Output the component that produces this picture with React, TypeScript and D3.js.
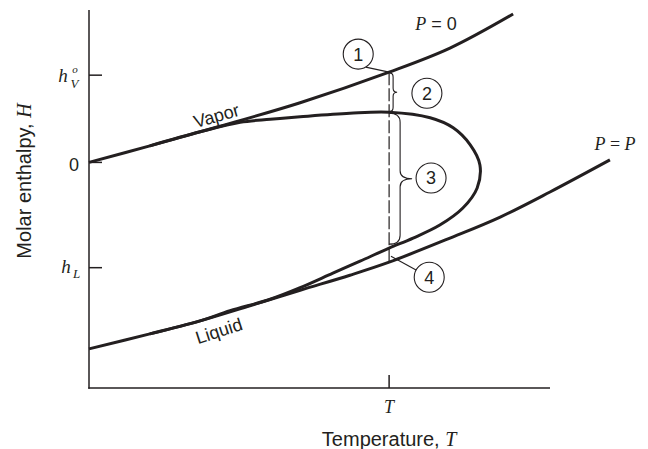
import React from "react";
import * as d3 from "d3";

// Ideal-gas (P = 0) enthalpy curve
const vaporT = [0, 1.32, 2.8, 4.58, 6.51, 7.83, 9.2];
const vaporH = [0, 0.33, 0.71, 1.19, 1.8, 2.28, 2.96];

// P = P liquid line
const liquidT = [0, 1.32, 2.41, 3.49, 4.58, 5.66, 6.51, 7.83, 8.92, 10, 11.3];
const liquidH = [-3.72, -3.42, -3.16, -2.86, -2.55, -2.25, -1.99, -1.51, -1.09, -0.59, 0.05];

// vapor / liquid loop at P
const loopT = [1.32, 2.41, 3.28, 3.93, 4.58, 5.66, 6.51, 7.4, 7.9, 8.27, 8.48, 8.42, 8.11, 7.61, 7.03, 6.51, 5.88, 5.29, 4.58, 3.93, 3.06, 2.41, 1.32];
const loopH = [0.33, 0.61, 0.8, 0.86, 0.91, 0.98, 1.0, 0.89, 0.69, 0.35, -0.05, -0.51, -0.91, -1.25, -1.51, -1.71, -1.97, -2.21, -2.5, -2.73, -2.96, -3.16, -3.42];

const tempTick = 6.51;
const yTickValues = [1.74, 0, -2.1];
const circleIds = ["1", "2", "3", "4"];
const circleT = [5.84, 7.33, 7.42, 7.38];
const circleH = [2.16, 1.38, -0.31, -2.29];

const INK = "#231f20";
const SANS = "'Liberation Sans', Arial, sans-serif";
const SERIF = "'Liberation Serif', 'Times New Roman', serif";

function bracePath(x0: number, x1: number, x2: number, yTop: number, yBot: number, r: number, rm: number) {
  const ym = (yTop + yBot) / 2;
  return [
    `M${x0},${yTop}`,
    `Q${x1},${yTop} ${x1},${yTop + r}`,
    `L${x1},${ym - rm}`,
    `Q${x1},${ym} ${x2},${ym}`,
    `Q${x1},${ym} ${x1},${ym + rm}`,
    `L${x1},${yBot - r}`,
    `Q${x1},${yBot} ${x0},${yBot}`,
  ].join(" ");
}

export default function App() {
  const width = 648;
  const height = 449;

  const xScale = d3.scaleLinear().domain([0, 10]).range([89, 550]);
  const yScale = d3.scaleLinear().domain([-4.5, 3]).range([388, 12]);

  const line = d3
    .line<[number, number]>()
    .x((d) => xScale(d[0]))
    .y((d) => yScale(d[1]))
    .curve(d3.curveCatmullRom.alpha(0.5));

  const vaporPath = line(vaporT.map((t, i) => [t, vaporH[i]]))!;
  const liquidPath = line(liquidT.map((t, i) => [t, liquidH[i]]))!;
  const loopPath = line(loopT.map((t, i) => [t, loopH[i]]))!;

  const xT = xScale(tempTick);
  const yTop = yScale(vaporH[4]);
  const yLoopTop = yScale(loopH[6]);
  const yLoopBot = yScale(loopH[15]);
  const yLiq = yScale(liquidH[6]);

  const cx = circleT.map((t) => xScale(t));
  const cy = circleH.map((h) => yScale(h));
  const rc = 15;

  // leader 4 anchor (between loop and liquid line)
  const l4x = xScale(6.55);
  const l4y = yScale(-1.87);
  const v4 = [l4x - cx[3], l4y - cy[3]];
  const n4 = Math.hypot(v4[0], v4[1]);

  const yTickY = yTickValues.map((v) => yScale(v));

  return (
    <svg
      width={width}
      height={height}
      style={{ position: "absolute", left: 0, top: 0, background: "#fff" }}
    >
      {/* axes */}
      <g stroke={INK} strokeWidth={1.5} fill="none">
        <line x1={89} y1={10} x2={89} y2={388.75} />
        <line x1={88.25} y1={388} x2={550} y2={388} />
        {yTickY.map((y, i) => (
          <line key={i} x1={89} x2={102} y1={y} y2={y} />
        ))}
        <line x1={xT} x2={xT} y1={375} y2={388} />
      </g>

      {/* dashed line at T */}
      <line
        x1={xT}
        x2={xT}
        y1={yTop}
        y2={yLiq}
        stroke={INK}
        strokeWidth={1.2}
        strokeDasharray="13,3"
      />

      {/* curves */}
      <g stroke={INK} strokeWidth={3} fill="none" strokeLinecap="butt">
        <path d={vaporPath} />
        <path d={liquidPath} />
        <path d={loopPath} />
      </g>

      {/* braces */}
      <g stroke={INK} strokeWidth={1.1} fill="none">
        <path d={bracePath(xT + 1, xT + 4, xT + 8, yTop + 1, yLoopTop - 1, 4, 4)} />
        <path d={bracePath(xT, xT + 11, xT + 23, yLoopTop + 1, yLoopBot - 4, 9, 8)} />
        <line
          x1={cx[0] + rc * Math.cos(Math.PI / 3)}
          y1={cy[0] + rc * Math.sin(Math.PI / 3)}
          x2={xT}
          y2={yTop}
        />
        <line
          x1={l4x}
          y1={l4y}
          x2={cx[3] + (v4[0] / n4) * rc}
          y2={cy[3] + (v4[1] / n4) * rc}
        />
      </g>

      {/* numbered circles */}
      {circleIds.map((id, i) => (
        <g key={id}>
          <circle cx={cx[i]} cy={cy[i]} r={rc} fill="#fff" stroke={INK} strokeWidth={1.1} />
          <text
            x={cx[i]}
            y={cy[i] + 6.5}
            textAnchor="middle"
            fontFamily={SANS}
            fontSize={18}
            fill={INK}
          >
            {id}
          </text>
        </g>
      ))}

      {/* y tick labels */}
      <g fill={INK}>
        <text x={63} y={yTickY[0] + 7} textAnchor="middle" fontFamily={SERIF} fontStyle="italic" fontSize={19}>
          h
        </text>
        <text x={75} y={yTickY[0] - 2} textAnchor="middle" fontFamily={SERIF} fontStyle="italic" fontSize={11}>
          o
        </text>
        <text x={74.5} y={yTickY[0] + 13} textAnchor="middle" fontFamily={SERIF} fontStyle="italic" fontSize={13}>
          V
        </text>
        <text x={74} y={yTickY[1] + 8.5} textAnchor="middle" fontFamily={SANS} fontSize={18}>
          0
        </text>
        <text x={66} y={yTickY[2] + 5} textAnchor="middle" fontFamily={SERIF} fontStyle="italic" fontSize={19}>
          h
        </text>
        <text x={76.5} y={yTickY[2] + 10} textAnchor="middle" fontFamily={SERIF} fontStyle="italic" fontSize={13}>
          L
        </text>

        {/* x tick label */}
        <text x={xT} y={413} textAnchor="middle" fontFamily={SERIF} fontStyle="italic" fontSize={18}>
          T
        </text>

        {/* axis titles */}
        <text x={xT} y={446} textAnchor="middle" fontFamily={SANS} fontSize={20}>
          Temperature, <tspan fontFamily={SERIF} fontStyle="italic">T</tspan>
        </text>
        <text
          transform="translate(31,181) rotate(-90)"
          textAnchor="middle"
          fontFamily={SANS}
          fontSize={20}
        >
          Molar enthalpy, <tspan fontFamily={SERIF} fontStyle="italic">H</tspan>
        </text>

        {/* curve labels */}
        <text
          transform={`translate(${xScale(2.8)},${yScale(0.71) - 5}) rotate(-16)`}
          textAnchor="middle"
          fontFamily={SANS}
          fontSize={18}
        >
          Vapor
        </text>
        <text
          transform={`translate(${xScale(2.86)},${yScale(-3.3) + 9}) rotate(-18)`}
          textAnchor="middle"
          fontFamily={SANS}
          fontSize={18}
        >
          Liquid
        </text>
        <text x={436} y={30} textAnchor="middle" fontSize={18}>
          <tspan fontFamily={SERIF} fontStyle="italic">P</tspan>
          <tspan fontFamily={SANS}> = 0</tspan>
        </text>
        <text x={615} y={150} textAnchor="middle" fontSize={18} fontFamily={SERIF}>
          <tspan fontStyle="italic">P</tspan>
          <tspan> = </tspan>
          <tspan fontStyle="italic">P</tspan>
        </text>
      </g>
    </svg>
  );
}
